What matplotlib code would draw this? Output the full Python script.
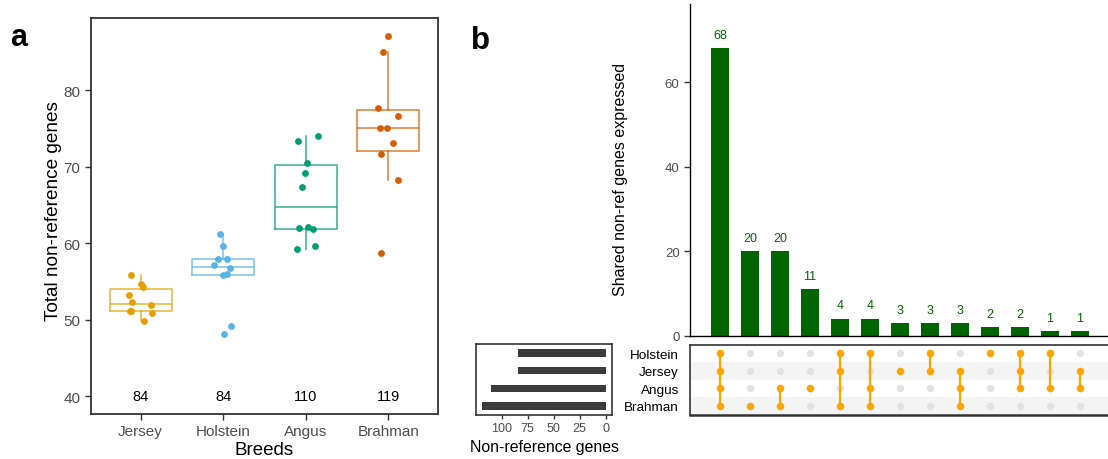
import matplotlib.pyplot as plt
import numpy as np

plt.rcParams['font.family'] = ['Liberation Sans', 'DejaVu Sans']

# panel a: non-reference genes per animal, by breed
breeds = ['Jersey', 'Holstein', 'Angus', 'Brahman']
breed_colors = ['#E69F00', '#56B4E9', '#009E73', '#D55E00']
jersey_genes = [55.9, 54.7, 54.3, 53.2, 52.3, 51.9, 51.2, 51.1, 50.9, 49.9]
holstein_genes = [61.2, 59.6, 58.0, 58.0, 57.2, 56.7, 56.0, 55.8, 49.2, 48.2]
angus_genes = [74.0, 73.3, 70.5, 69.2, 67.3, 62.1, 62.0, 61.8, 59.6, 59.2]
brahman_genes = [87.0, 84.9, 77.6, 76.6, 75.1, 75.0, 73.1, 71.7, 68.2, 58.7]
breed_totals = [84, 84, 110, 119]

# panel b: upset plot of shared non-reference genes
set_names = ['Holstein', 'Jersey', 'Angus', 'Brahman']
set_sizes = [84, 84, 110, 119]
intersections = [
    ['Holstein', 'Jersey', 'Angus', 'Brahman'],
    ['Brahman'],
    ['Angus', 'Brahman'],
    ['Angus'],
    ['Holstein', 'Jersey', 'Brahman'],
    ['Holstein', 'Angus', 'Brahman'],
    ['Jersey'],
    ['Holstein', 'Jersey'],
    ['Jersey', 'Angus', 'Brahman'],
    ['Holstein'],
    ['Holstein', 'Jersey', 'Angus'],
    ['Holstein', 'Angus'],
    ['Jersey', 'Angus'],
]
intersection_counts = [68, 20, 20, 11, 4, 4, 3, 3, 3, 2, 2, 1, 1]

W, H = 1108, 460
fig = plt.figure(figsize=(W / 100, H / 100), dpi=100)


def px_axes(left, top, right, bottom):
    return fig.add_axes([left / W, 1 - bottom / H, (right - left) / W, (bottom - top) / H])


FRAME = '#333333'
TICK_TXT = '#4D4D4D'

# ---- panel a ----
ax = px_axes(91, 19, 438, 415)
rng = np.random.default_rng(11)
all_genes = [jersey_genes, holstein_genes, angus_genes, brahman_genes]
for i, (vals, col) in enumerate(zip(all_genes, breed_colors)):
    pos = i + 1
    line = dict(color=col, lw=1.1, alpha=0.8)
    ax.boxplot(vals, positions=[pos], widths=0.75, showfliers=False, showcaps=False,
               boxprops=line, whiskerprops=line, medianprops=line)
    xj = pos + rng.uniform(-0.15, 0.15, len(vals))
    ax.scatter(xj, vals, s=24, color=col, linewidths=0, zorder=3)
    ax.text(pos, 40, str(breed_totals[i]), ha='center', va='center', fontsize=10.5)

ax.set_xlim(0.4, 4.6)
ax.set_ylim(37.7, 89.4)
ax.set_xticks(range(1, 5))
ax.set_xticklabels(breeds)
ax.set_yticks([40, 50, 60, 70, 80])
ax.tick_params(length=4, width=1, color=FRAME, labelcolor=TICK_TXT, labelsize=11)
for s in ax.spines.values():
    s.set_color(FRAME)
    s.set_linewidth(1.3)
ax.set_xlabel('Breeds', fontsize=13.5)
ax.xaxis.set_label_coords(0.5, -0.068)
ax.set_ylabel('Total non-reference genes', fontsize=13.7)
ax.yaxis.set_label_coords(-0.085, 0.514)
fig.text(10 / W, 1 - 46 / H, 'a', fontsize=22, fontweight='bold', va='baseline')

# ---- panel b: intersection bars ----
cols = np.arange(1, len(intersection_counts) + 1)
axb = px_axes(690, 5, 1110, 336.5)
axb.bar(cols, intersection_counts, width=0.63, color='#006400')
for x, v in zip(cols, intersection_counts):
    axb.annotate(str(v), (x, v), xytext=(0, 9.5), textcoords='offset points',
                 ha='center', va='center', color='#006400', fontsize=9)
axb.set_xlim(0, 14)
axb.set_ylim(0, 78.5)
axb.set_xticks([])
axb.set_yticks([0, 20, 40, 60])
axb.tick_params(axis='y', length=4, width=1, color=FRAME, labelcolor=TICK_TXT, labelsize=9.5)
axb.spines['top'].set_visible(False)
axb.spines['right'].set_visible(False)
axb.spines['left'].set_linewidth(1.0)
axb.spines['bottom'].set_linewidth(1.0)
axb.set_ylabel('Shared non-ref genes expressed', fontsize=11.5)
axb.yaxis.set_label_coords(-0.148, 0.475)
fig.text(471 / W, 1 - 49 / H, 'b', fontsize=22.5, fontweight='bold', va='baseline')

# ---- panel b: set sizes ----
rows = np.arange(len(set_names))
axs = px_axes(476, 345, 612, 416)
axs.barh(rows, set_sizes, height=0.42, color='#3B3B3B')
axs.set_xlim(124.8, -6.25)
axs.set_ylim(3.5, -0.5)
axs.set_yticks([])
axs.set_xticks([100, 75, 50, 25, 0])
axs.tick_params(axis='x', length=3, width=1, color=FRAME, labelcolor=TICK_TXT, labelsize=9, pad=2)
for s in axs.spines.values():
    s.set_color(FRAME)
    s.set_linewidth(1.2)
axs.set_xlabel('Non-reference genes', fontsize=11.4, labelpad=4)

# ---- panel b: membership matrix ----
axm = px_axes(690, 345.5, 1110, 415.5)
for r in rows:
    if r % 2 == 1:
        axm.axhspan(r - 0.5, r + 0.5, color='#F4F4F4', lw=0, zorder=0)
for x, members in zip(cols, intersections):
    on = [set_names.index(m) for m in members]
    off = [r for r in rows if r not in on]
    axm.scatter([x] * len(off), off, s=28, color='#E2E2E2', linewidths=0, zorder=2)
    if len(on) > 1:
        axm.plot([x, x], [min(on), max(on)], color='#FFA500', lw=1.6, zorder=3)
    axm.scatter([x] * len(on), on, s=30, color='#FFA500', linewidths=0, zorder=4)
axm.set_xlim(0, 14)
axm.set_ylim(3.5, -0.5)
axm.set_xticks([])
axm.set_yticks(rows)
axm.set_yticklabels(set_names)
axm.tick_params(axis='y', length=0, pad=8, labelsize=9.7, labelcolor='black')
for s in axm.spines.values():
    s.set_color(FRAME)
    s.set_linewidth(1.2)
axm.spines['bottom'].set_linewidth(1.8)

fig.savefig('out.png', dpi=100)
